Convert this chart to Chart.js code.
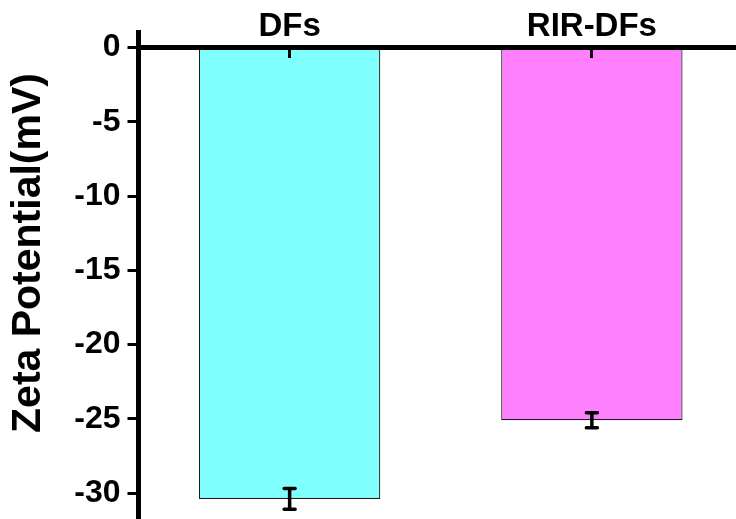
<!DOCTYPE html>
<html>
<head>
<meta charset="utf-8">
<title>Zeta Potential</title>
<script src="https://cdn.jsdelivr.net/npm/chart.js@4/dist/chart.umd.min.js"></script>
<style>
  html, body { margin: 0; padding: 0; background: #fff; overflow: hidden; width: 736px; height: 519px; position: relative; }
  /* canvas is a little larger than the window so the plot runs off the bottom/right edges */
  #wrap { position: absolute; left: 0; top: -13px; width: 743px; height: 532px; }
</style>
</head>
<body>
<div id="wrap"><canvas id="c"></canvas></div>
<script>
// ---- data ----
const categories = ['DFs', 'RIR-DFs'];
const zetaMean = [-30.4, -25.1];   // mV
const zetaError = [0.7, 0.5];      // mV, +/- error
const yTickStep = 5;
const yMin = -31.75;
const yMax = 1.05;

const FONT = "'Liberation Sans', Arial, Helvetica, sans-serif";
Chart.defaults.font.family = FONT;
Chart.defaults.color = '#000';

// I-shaped error bars drawn from the value arrays through the y scale
const errorBars = {
  id: 'errorBars',
  afterDatasetsDraw(chart) {
    const ctx = chart.ctx;
    const y = chart.scales.y;
    const meta = chart.getDatasetMeta(0);
    ctx.save();
    ctx.strokeStyle = '#000';
    ctx.lineWidth = 3.5;
    ctx.lineCap = 'round';
    meta.data.forEach((bar, i) => {
      const yTop = y.getPixelForValue(zetaMean[i] + zetaError[i]);
      const yBot = y.getPixelForValue(zetaMean[i] - zetaError[i]);
      const half = 5.5;
      ctx.beginPath();
      ctx.moveTo(bar.x, yTop); ctx.lineTo(bar.x, yBot);
      ctx.moveTo(bar.x - half, yTop); ctx.lineTo(bar.x + half, yTop);
      ctx.moveTo(bar.x - half, yBot); ctx.lineTo(bar.x + half, yBot);
      ctx.stroke();
    });
    ctx.restore();
  }
};

new Chart(document.getElementById('c'), {
  type: 'bar',
  data: {
    labels: categories,
    datasets: [{
      data: zetaMean,
      backgroundColor: ['#80FFFF', '#FF80FF'],
      borderColor: '#1a1a1a',
      borderWidth: 1.2,
      categoryPercentage: 1,
      barPercentage: 0.6
    }]
  },
  options: {
    responsive: true,
    maintainAspectRatio: false,
    animation: false,
    layout: { padding: 0 },
    plugins: {
      legend: { display: false },
      tooltip: { enabled: false },
      title: {
        display: true,
        text: 'Zeta Potential(mV)',
        position: 'left',
        color: '#000',
        font: { size: 41, weight: 'bold', lineHeight: 1.2 },
        padding: { top: 4.2, bottom: 13.9 }
      },
      // empty spacer band above the plot area
      subtitle: {
        display: true,
        text: '',
        position: 'top',
        font: { size: 45, lineHeight: 1 },
        padding: 0
      }
    },
    scales: {
      x: {
        position: { y: 0 },
        grid: {
          display: true, drawOnChartArea: false, drawTicks: true,
          tickLength: 8, tickWidth: 3, tickColor: '#000', offset: false, z: 1
        },
        border: { display: true, color: '#000', width: 5, z: 1 },
        ticks: {
          color: '#000',
          font: { size: 33, weight: 'bold' },
          padding: -48.3,
          maxRotation: 0,
          autoSkip: false
        }
      },
      y: {
        min: yMin,
        max: yMax,
        grid: {
          display: true, drawOnChartArea: false, drawTicks: true,
          tickLength: 11, tickWidth: 3, tickColor: '#000', z: 1
        },
        border: { display: true, color: '#000', width: 5, z: 1 },
        ticks: {
          stepSize: yTickStep,
          includeBounds: false,
          color: '#000',
          font: { size: 32, weight: 'bold' },
          padding: 7
        },
        afterFit(scale) {
          scale.paddingTop = 0;
          scale.paddingBottom = 0;
          scale.width = 71.2;
        }
      }
    }
  },
  plugins: [errorBars]
});
</script>
</body>
</html>
